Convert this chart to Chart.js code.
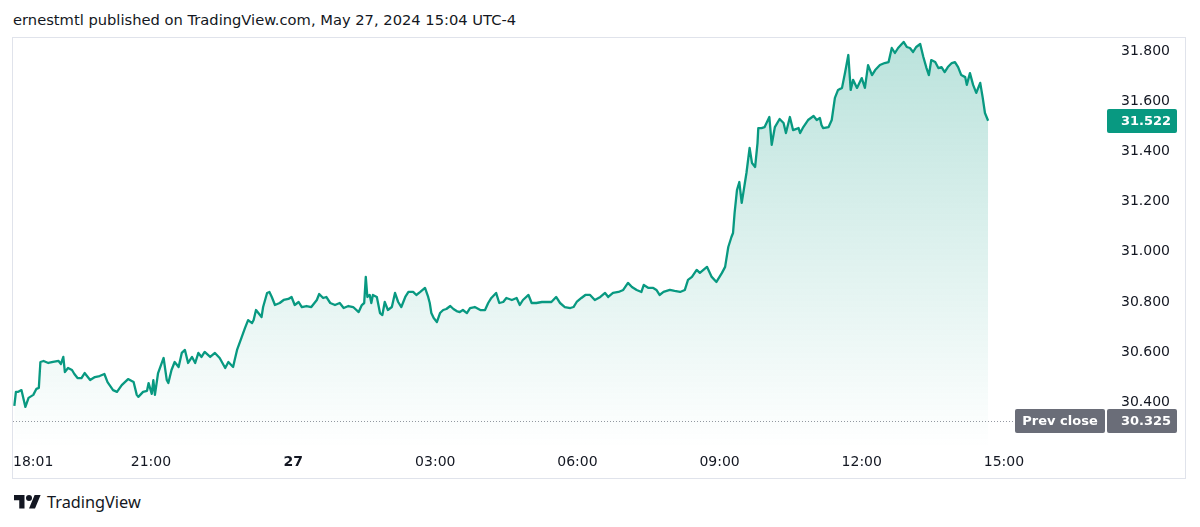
<!DOCTYPE html>
<html>
<head>
<meta charset="utf-8">
<script src="https://cdn.jsdelivr.net/npm/chart.js@4.4.1/dist/chart.umd.min.js"></script>
<style>
  html, body { margin: 0; padding: 0; background: #fff; }
  body { width: 1200px; height: 527px; position: relative; overflow: hidden;
         font-family: "DejaVu Sans", sans-serif; color: #131722; }
  #title { position: absolute; left: 13px; top: 10px; font-size: 14.7px; line-height: 20px; white-space: nowrap; }
  #frame { position: absolute; left: 12px; top: 37px; width: 1172px; height: 440px; border: 1px solid #e0e3eb; }
  #frame canvas { position: absolute; left: 0; top: 0; }
  #brand { position: absolute; left: 14px; top: 491px; height: 22px; display: flex; align-items: center; }
  #brand svg { width: 27px; height: 21px; margin-right: 6px; }
  #brand span { font-family: "Noto Sans", sans-serif; font-size: 16.3px; color: #131722; }
</style>
</head>
<body>
<div id="title">ernestmtl published on TradingView.com, May 27, 2024 15:04 UTC-4</div>
<div id="frame"><canvas id="priceChart" width="1172" height="440"></canvas></div>
<div id="brand">
  <svg viewBox="0 0 36 28"><path fill="#131722" d="M14 22H7V11H0V4h14v18zM28 22h-8l7.5-18h8L28 22z"/><circle fill="#131722" cx="20" cy="8" r="4"/></svg>
  <span>TradingView</span>
</div>
<script>
// minutes after 18:00 (May 26) for each sampled point
const minutesSince1800 = [
  7, 9, 12, 16, 21, 25, 31, 35, 38, 40,
  44, 50, 56, 63, 66, 69, 71, 75, 80, 83,
  87, 92, 96, 103, 109, 115, 121, 125, 132, 137,
  143, 151, 158, 162, 164, 170, 175, 177, 181, 183,
  185, 189, 196, 200, 202, 206, 210, 215, 219, 223,
  227, 232, 236, 240, 244, 248, 255, 261, 267, 274,
  278, 284, 286, 289, 295, 299, 303, 308, 310, 313,
  316, 320, 322, 327, 330, 333, 337, 343, 348, 354,
  358, 362, 367, 371, 377, 383, 390, 393, 398, 402,
  407, 413, 419, 424, 430, 436, 443, 447, 450, 452,
  454, 457, 459, 461, 466, 470, 473, 476, 480, 485,
  489, 493, 497, 502, 506, 512, 516, 521, 527, 531,
  533, 535, 538, 542, 546, 550, 554, 559, 563, 567,
  571, 575, 580, 584, 590, 597, 603, 607, 611, 617,
  621, 626, 630, 637, 643, 647, 651, 658, 662, 668,
  675, 681, 687, 693, 698, 704, 711, 715, 719, 725,
  730, 736, 742, 749, 755, 759, 765, 772, 778, 784,
  789, 795, 801, 804, 810, 816, 820, 824, 829, 837,
  843, 850, 856, 860, 865, 871, 875, 884, 890, 896,
  903, 907, 911, 915, 917, 919, 922, 925, 928, 930,
  932, 934, 938, 941, 945, 948, 949, 953, 957, 960,
  963, 966, 970, 976, 981, 984, 989, 993, 1000, 1002,
  1006, 1012, 1019, 1023, 1027, 1029, 1031, 1038, 1042, 1046,
  1050, 1055, 1059, 1063, 1066, 1069, 1074, 1080, 1084, 1088,
  1093, 1097, 1103, 1109, 1114, 1118, 1122, 1126, 1133, 1137,
  1141, 1145, 1149, 1154, 1158, 1162, 1165, 1168, 1173, 1177,
  1181, 1185, 1189, 1194, 1198, 1202, 1206, 1211, 1213, 1217,
  1221, 1225, 1230, 1233, 1236, 1240
];

const prices = [
  30.386, 30.442, 30.442, 30.449, 30.382, 30.418, 30.430, 30.454, 30.458, 30.561,
  30.565, 30.557, 30.561, 30.565, 30.553, 30.581, 30.521, 30.537, 30.529, 30.513,
  30.497, 30.497, 30.517, 30.489, 30.501, 30.505, 30.513, 30.481, 30.449, 30.442,
  30.469, 30.493, 30.481, 30.430, 30.422, 30.442, 30.446, 30.477, 30.434, 30.489,
  30.430, 30.517, 30.577, 30.489, 30.477, 30.529, 30.561, 30.541, 30.597, 30.609,
  30.557, 30.581, 30.557, 30.597, 30.581, 30.601, 30.581, 30.597, 30.577, 30.537,
  30.561, 30.541, 30.569, 30.609, 30.661, 30.696, 30.728, 30.716, 30.728, 30.768,
  30.756, 30.740, 30.780, 30.836, 30.840, 30.820, 30.788, 30.796, 30.808, 30.812,
  30.820, 30.788, 30.800, 30.780, 30.784, 30.780, 30.808, 30.832, 30.816, 30.820,
  30.796, 30.788, 30.796, 30.776, 30.784, 30.780, 30.760, 30.788, 30.796, 30.900,
  30.820, 30.828, 30.796, 30.828, 30.820, 30.756, 30.748, 30.800, 30.768, 30.780,
  30.836, 30.800, 30.780, 30.820, 30.840, 30.840, 30.828, 30.840, 30.856, 30.820,
  30.796, 30.756, 30.736, 30.720, 30.756, 30.768, 30.772, 30.784, 30.772, 30.764,
  30.760, 30.768, 30.756, 30.776, 30.780, 30.768, 30.768, 30.796, 30.816, 30.836,
  30.796, 30.800, 30.816, 30.808, 30.816, 30.788, 30.808, 30.828, 30.796, 30.796,
  30.800, 30.800, 30.800, 30.820, 30.796, 30.780, 30.776, 30.780, 30.800, 30.816,
  30.828, 30.828, 30.808, 30.820, 30.836, 30.820, 30.836, 30.840, 30.848, 30.876,
  30.860, 30.848, 30.840, 30.868, 30.856, 30.856, 30.848, 30.828, 30.840, 30.848,
  30.844, 30.840, 30.848, 30.888, 30.900, 30.928, 30.916, 30.940, 30.900, 30.880,
  30.916, 30.940, 31.019, 31.059, 31.075, 31.155, 31.246, 31.278, 31.195, 31.234,
  31.274, 31.314, 31.414, 31.354, 31.338, 31.433, 31.493, 31.493, 31.497, 31.517,
  31.537, 31.426, 31.497, 31.529, 31.513, 31.473, 31.537, 31.485, 31.493, 31.473,
  31.497, 31.525, 31.541, 31.525, 31.533, 31.505, 31.493, 31.497, 31.525, 31.613,
  31.645, 31.653, 31.716, 31.784, 31.645, 31.685, 31.653, 31.692, 31.653, 31.744,
  31.704, 31.724, 31.744, 31.752, 31.756, 31.812, 31.792, 31.812, 31.836, 31.816,
  31.812, 31.796, 31.816, 31.828, 31.776, 31.732, 31.704, 31.764, 31.756, 31.732,
  31.736, 31.716, 31.736, 31.752, 31.756, 31.736, 31.704, 31.696, 31.665, 31.712,
  31.665, 31.633, 31.673, 31.617, 31.553, 31.522
];

const prevClose = 30.325;
const lastPrice = 31.522;

const xTickMinutes = [5.3, 180, 360, 540, 720, 900, 1080, 1260, 1388];
const xTickLabels  = ['18:01', '21:00', '27', '03:00', '06:00', '09:00', '12:00', '15:00', ''];
const yTickValues  = [30.4, 30.6, 30.8, 31.0, 31.2, 31.4, 31.6, 31.8];

const GREEN = '#089981';
const TEXT = '#131722';
const FONT = '"DejaVu Sans", sans-serif';

function roundBox(ctx, x, y, w, h, r) {
  ctx.beginPath();
  ctx.roundRect(x, y, w, h, r);
  ctx.fill();
}

const priceTags = {
  id: 'priceTags',
  beforeDatasetsDraw(chart) {
    const { ctx, chartArea, scales: { y } } = chart;
    const py = Math.round(y.getPixelForValue(prevClose)) + 0.5;
    ctx.save();
    ctx.strokeStyle = '#9598a1';
    ctx.lineWidth = 1;
    ctx.setLineDash([1, 2]);
    ctx.beginPath();
    ctx.moveTo(chartArea.left, py);
    ctx.lineTo(chartArea.right - 90, py);
    ctx.stroke();
    ctx.restore();
  },
  afterDraw(chart) {
    const { ctx, chartArea, scales: { y } } = chart;
    const textX = y.left + 16;
    ctx.save();
    ctx.font = 'bold 13px ' + FONT;
    ctx.textBaseline = 'middle';

    // prev close tag
    const pc = Math.round(y.getPixelForValue(prevClose));
    ctx.fillStyle = '#6a6d78';
    roundBox(ctx, chartArea.right - 90, pc - 12, 90, 24, 2);
    roundBox(ctx, y.left + 2, pc - 12, 70, 24, 2);
    ctx.fillStyle = '#fff';
    ctx.textAlign = 'center';
    ctx.fillText('Prev close', chartArea.right - 45, pc + 1);
    ctx.textAlign = 'left';
    ctx.fillText(prevClose.toFixed(3), textX, pc + 1);

    // last price tag
    const lp = Math.round(y.getPixelForValue(lastPrice));
    ctx.fillStyle = GREEN;
    roundBox(ctx, y.left + 2, lp - 12, 70, 24, 2);
    ctx.fillStyle = '#fff';
    ctx.fillText(lastPrice.toFixed(3), textX, lp + 1);
    ctx.restore();
  }
};

const ctx = document.getElementById('priceChart').getContext('2d');

new Chart(ctx, {
  type: 'line',
  data: {
    datasets: [{
      data: minutesSince1800.map((m, i) => ({ x: m, y: prices[i] })),
      borderColor: GREEN,
      borderWidth: 2.3,
      borderJoinStyle: 'round',
      pointRadius: 0,
      tension: 0,
      fill: 'start',
      backgroundColor: (c) => {
        const area = c.chart.chartArea;
        if (!area) return 'rgba(8,153,129,0.2)';
        const g = c.chart.ctx.createLinearGradient(0, area.top, 0, area.bottom);
        g.addColorStop(0, 'rgba(8,153,129,0.28)');
        g.addColorStop(1, 'rgba(8,153,129,0.0)');
        return g;
      }
    }]
  },
  options: {
    responsive: false,
    animation: false,
    devicePixelRatio: 1,
    layout: { padding: 0 },
    plugins: { legend: { display: false }, tooltip: { enabled: false } },
    scales: {
      x: {
        type: 'linear',
        min: 5.3,
        max: 1388,
        grid: { display: false, drawTicks: false },
        border: { display: false },
        afterBuildTicks: (s) => { s.ticks = xTickMinutes.map(v => ({ value: v })); },
        afterFit: (s) => { s.height = 30; s.paddingLeft = 0; s.paddingRight = 0; },
        ticks: {
          autoSkip: false,
          maxRotation: 0,
          align: 'inner',
          padding: 6,
          color: TEXT,
          font: (c) => ({ family: FONT, size: 14, weight: c.tick && c.tick.label === '27' ? 'bold' : 'normal' }),
          callback: (v, i) => xTickLabels[i]
        }
      },
      y: {
        position: 'right',
        min: 30.2183,
        max: 31.8518,
        grid: { display: false, drawTicks: false },
        border: { display: false },
        afterBuildTicks: (s) => { s.ticks = yTickValues.map(v => ({ value: v })); },
        afterFit: (s) => { s.width = 80; s.paddingTop = 0; s.paddingBottom = 0; },
        ticks: {
          crossAlign: 'near',
          padding: 16,
          color: TEXT,
          font: { family: FONT, size: 14 },
          callback: (v) => Number(v).toFixed(3)
        }
      }
    }
  },
  plugins: [priceTags]
});
</script>
</body>
</html>
